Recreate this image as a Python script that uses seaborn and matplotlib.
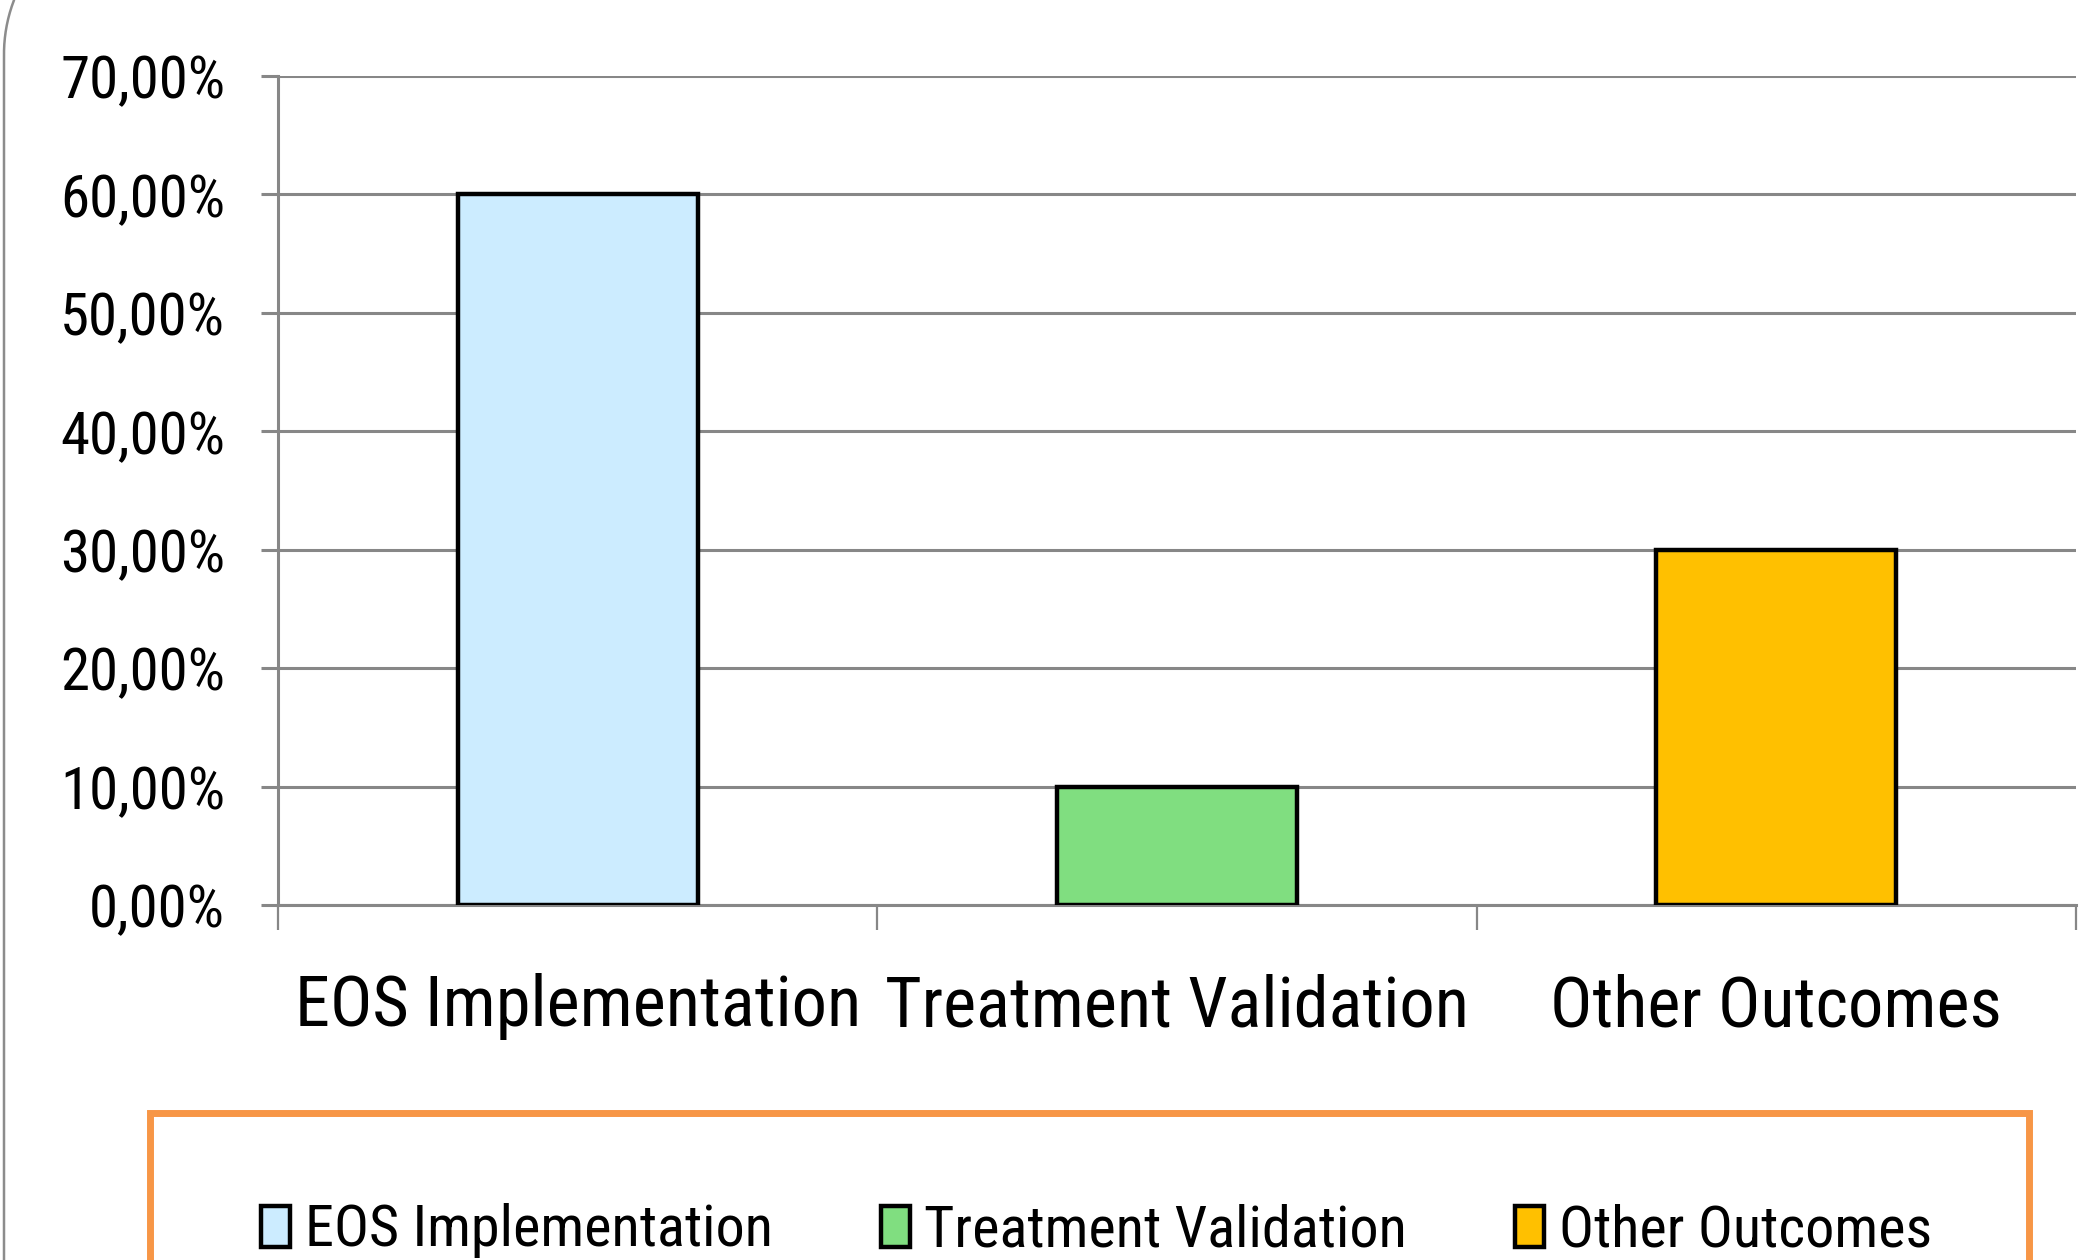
import matplotlib
matplotlib.use("Agg")
import numpy as np
import matplotlib.pyplot as plt
import seaborn as sns
from matplotlib import font_manager
from matplotlib.font_manager import FontProperties
from matplotlib.textpath import TextPath
from matplotlib.patches import Rectangle
from matplotlib.lines import Line2D
from matplotlib.ticker import FuncFormatter, FixedLocator

# Data
categories = ["EOS Implementation", "Treatment Validation", "Other Outcomes"]
shares = [60.0, 10.0, 30.0]
bar_colors = ["#CCECFF", "#80DE80", "#FFC000"]
y_ticks = [0, 10, 20, 30, 40, 50, 60, 70]

sns.set_theme(style="white")

# Prefer a narrow face; fall back to a regular sans
fonts = font_manager.fontManager.ttflist
choice = None
for name in ["Liberation Sans Narrow", "Roboto Condensed", "Open Sans Condensed",
             "Noto Sans Condensed", "DejaVu Sans Condensed"]:
    if any(f.name == name for f in fonts):
        choice = (name, "normal")
        break
if choice is None:
    for name in ["Open Sans", "Noto Sans", "Roboto", "DejaVu Sans"]:
        if any(f.name == name and f.stretch in ("condensed", "semi-condensed", 87, 75)
               for f in fonts):
            choice = (name, "condensed")
            break
if choice is None:
    choice = ("Liberation Sans", "normal")

plt.rcParams["font.family"] = [choice[0], "DejaVu Sans"]
plt.rcParams["font.stretch"] = choice[1]
plt.rcParams["text.color"] = "black"

W, H = 2096, 1260
DPI = 100


def size_for(text, target_px):
    """Font size (pt) at which `text` spans target_px pixels."""
    fp = FontProperties(family=choice[0], stretch=choice[1])
    w = TextPath((0, 0), text, size=100, prop=fp).get_extents().width
    return target_px * 72 / DPI * 100 / w


ytick_size = size_for("70,00%", 160)
xtick_size = size_for("EOS Implementation", 556)
legend_size = size_for("EOS Implementation", 460)

fig = plt.figure(figsize=(W / DPI, H / DPI), dpi=DPI)
fig.patch.set_facecolor("white")

ax = fig.add_axes([278 / W, 1 - 905 / H, (2076 - 278) / W, (905 - 76) / H])
sns.barplot(x=categories, y=shares, hue=categories, palette=bar_colors,
            saturation=1, width=0.4, edgecolor="black", linewidth=3.2,
            legend=False, ax=ax, zorder=3)

grid_col = "#878787"
ax.set_xlim(-0.5, 2.5)
ax.set_ylim(0, 70)
ax.set_yticks(y_ticks)
ax.yaxis.set_major_formatter(FuncFormatter(lambda v, _: f"{v:.2f}".replace(".", ",") + "%"))
ax.yaxis.grid(True, color=grid_col, linewidth=2.2)
ax.xaxis.grid(False)
ax.set_axisbelow(True)

for side in ("top", "right"):
    ax.spines[side].set_visible(False)
for side in ("left", "bottom"):
    ax.spines[side].set_color(grid_col)
    ax.spines[side].set_linewidth(2.2)

ax.tick_params(axis="y", which="major", left=True, length=12, width=2.2,
               color=grid_col, labelsize=ytick_size, labelcolor="black", pad=26)
ax.tick_params(axis="x", which="major", bottom=True, length=0,
               labelsize=xtick_size, labelcolor="black", pad=49)
ax.xaxis.set_minor_locator(FixedLocator([-0.5, 0.5, 1.5, 2.5]))
ax.tick_params(axis="x", which="minor", bottom=True, length=18, width=1.6,
               color=grid_col)
ax.set_xlabel("")
ax.set_ylabel("")

# Legend with the bar patches as handles
handles = [c.patches[0] for c in ax.containers]
fig.legend(handles, categories, loc="center left",
           bbox_to_anchor=(261 / W, 1 - 1231 / H), ncol=3, frameon=False,
           fontsize=legend_size, handlelength=0.5, handleheight=0.7,
           handletextpad=0.25, columnspacing=1.85, borderpad=0,
           borderaxespad=0, labelcolor="black")

# Orange frame around the legend area
fig.add_artist(Rectangle((150 / W, -0.1), (2029 - 150) / W, 0.1 + (1 - 1113 / H),
                         transform=fig.transFigure, fill=False,
                         edgecolor="#F79646", linewidth=5, clip_on=False))

# Outer chart border on the left, rounding off toward the top edge
r, cy = 150.0, 54.0
ys = np.linspace(0, H, 400)
xs = np.where(ys < cy, 4 + r - np.sqrt(np.clip(r ** 2 - (cy - ys) ** 2, 0, None)), 4)
fig.add_artist(Line2D(xs / W, 1 - ys / H, transform=fig.transFigure,
                      color="#8C8C8C", linewidth=1.8, clip_on=False))

fig.savefig("out.png", dpi=DPI, facecolor="white")
